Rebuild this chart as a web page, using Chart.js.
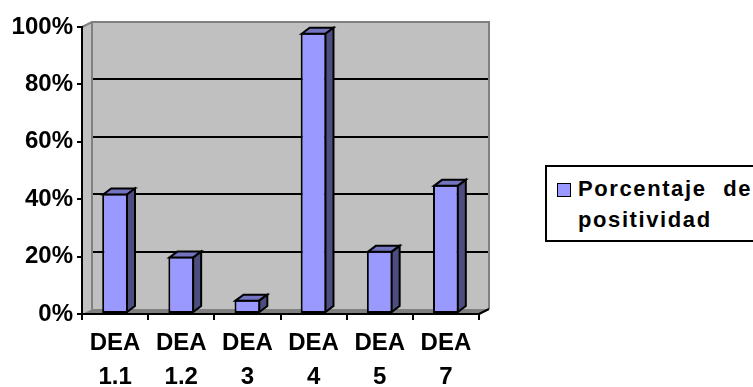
<!DOCTYPE html>
<html>
<head>
<meta charset="utf-8">
<script src="https://cdn.jsdelivr.net/npm/chart.js@4/dist/chart.umd.min.js"></script>
<style>
  html, body { margin: 0; padding: 0; background: #fff; }
  #wrap { position: relative; width: 753px; height: 387px; overflow: hidden; background: #fff; }
  #chart { position: absolute; left: 0; top: 0; }
  #legend {
    position: absolute; left: 545px; top: 165px; width: 240px; height: 73px;
    border: 2px solid #000; background: #fff; color: #000;
    font: bold 22px 'Liberation Sans', Arial, sans-serif; letter-spacing: 1.6px; word-spacing: 9px;
  }
  #legend .swatch {
    position: absolute; left: 10px; top: 16px; width: 12px; height: 12px;
    border: 1.5px solid #000; background: #9999ff;
  }
  #legend .line { position: absolute; left: 31px; line-height: 22px; white-space: nowrap; }
</style>
</head>
<body>
<div id="wrap">
  <canvas id="chart" width="753" height="387"></canvas>
  <div id="legend"><span class="swatch"></span></div>
</div>
<script>
// Categories (two-line tick labels) and the single series, in percent
const categories = [['DEA', '1.1'], ['DEA', '1.2'], ['DEA', '3'], ['DEA', '4'], ['DEA', '5'], ['DEA', '7']];
const positivity = [42, 20, 5, 98, 22, 45];
const seriesLines = ['Porcentaje de', 'positividad'];
const yMax = 100;
const yStep = 20;

const FONT = "'Liberation Sans', Arial, sans-serif";
const FRONT = '#9999ff', TOP = '#7373bf', SIDE = '#4d4d80';
const WALL_D = { dx: 10, dy: -5 };   // depth of the walls / floor
const BAR_D = { dx: 8, dy: -6 };     // depth of each column

function poly(ctx, pts) {
  ctx.beginPath();
  ctx.moveTo(pts[0][0], pts[0][1]);
  for (let i = 1; i < pts.length; i++) ctx.lineTo(pts[i][0], pts[i][1]);
  ctx.closePath();
}

// Draws back wall, side wall, floor and gridlines, then gives the columns depth
const box3d = {
  id: 'box3d',
  beforeDraw(chart) {
    const { ctx, chartArea: a, scales: { y } } = chart;
    const L = a.left, R = a.right, T = a.top, B = a.bottom;
    const dx = WALL_D.dx, dy = WALL_D.dy;
    ctx.save();
    ctx.fillStyle = '#c0c0c0';
    ctx.fillRect(L + dx, T + dy, R - L, B - T);
    poly(ctx, [[L, T], [L + dx, T + dy], [L + dx, B + dy], [L, B]]);
    ctx.fill();
    ctx.fillStyle = '#808080';
    poly(ctx, [[L, B], [L + dx, B + dy], [R + dx, B + dy], [R, B]]);
    ctx.fill();

    ctx.strokeStyle = '#000';
    ctx.lineWidth = 2;
    y.ticks.forEach(t => {
      if (t.value <= 0 || t.value >= yMax) return;
      const py = Math.round(y.getPixelForValue(t.value) + dy);
      ctx.beginPath();
      ctx.moveTo(L + dx, py);
      ctx.lineTo(R + dx, py);
      ctx.stroke();
    });

    ctx.strokeStyle = '#808080';
    ctx.beginPath();
    ctx.moveTo(L, T);
    ctx.lineTo(L + dx, T + dy);
    ctx.lineTo(R + dx, T + dy);
    ctx.lineTo(R + dx, B + dy);
    ctx.moveTo(L + dx, T + dy);
    ctx.lineTo(L + dx, B + dy);
    ctx.stroke();
    ctx.strokeStyle = '#000';
    ctx.beginPath();
    ctx.moveTo(R, B);
    ctx.lineTo(R + dx, B + dy);
    ctx.stroke();
    ctx.restore();
  },
  afterDatasetsDraw(chart) {
    const { ctx } = chart;
    const dx = BAR_D.dx, dy = BAR_D.dy;
    ctx.save();
    ctx.lineWidth = 2;
    ctx.lineJoin = 'miter';
    ctx.strokeStyle = '#000';
    chart.getDatasetMeta(0).data.forEach(bar => {
      const { x, y, base, width } = bar.getProps(['x', 'y', 'base', 'width'], true);
      const l = x - width / 2 + 1, r = x + width / 2 - 1, t = y + 1, b = base - 1;
      ctx.fillStyle = TOP;
      poly(ctx, [[l, t], [l + dx, t + dy], [r + dx, t + dy], [r, t]]);
      ctx.fill();
      ctx.stroke();
      ctx.fillStyle = SIDE;
      poly(ctx, [[r, t], [r + dx, t + dy], [r + dx, b + dy], [r, b]]);
      ctx.fill();
      ctx.stroke();
    });
    ctx.restore();
  }
};

new Chart(document.getElementById('chart'), {
  type: 'bar',
  data: {
    labels: categories,
    datasets: [{
      label: seriesLines.join(' '),
      data: positivity,
      backgroundColor: FRONT,
      borderColor: '#000',
      borderWidth: 2,
      borderSkipped: false,
      barPercentage: 0.39,
      categoryPercentage: 1
    }]
  },
  options: {
    responsive: false,
    animation: false,
    events: [],
    layout: { padding: { top: 27, right: 274, left: 0, bottom: 0 } },
    plugins: { legend: { display: false }, tooltip: { enabled: false } },
    scales: {
      x: {
        afterFit(s) { s.height = 73; },
        grid: { display: true, drawOnChartArea: false, drawTicks: true, tickLength: 6, color: '#000', lineWidth: 2 },
        border: { display: true, color: '#000', width: 2 },
        ticks: {
          color: '#000', autoSkip: false, maxRotation: 0, minRotation: 0, padding: 6,
          font: { family: FONT, size: 24, weight: 'bold', lineHeight: '34px' }
        }
      },
      y: {
        min: 0, max: yMax,
        afterFit(s) { s.width = 82; },
        grid: { display: true, drawOnChartArea: false, drawTicks: true, tickLength: 5, color: '#000', lineWidth: 2 },
        border: { display: true, color: '#000', width: 2 },
        ticks: {
          stepSize: yStep, color: '#000', padding: 4,
          font: { family: FONT, size: 24, weight: 'bold' },
          callback: v => v + '%'
        }
      }
    }
  },
  plugins: [box3d]
});

// Legend: swatch plus the wrapped series name
const legend = document.getElementById('legend');
seriesLines.forEach((txt, i) => {
  const d = document.createElement('div');
  d.className = 'line';
  d.style.top = (11 + i * 31) + 'px';
  d.textContent = txt;
  legend.appendChild(d);
});
</script>
</body>
</html>
